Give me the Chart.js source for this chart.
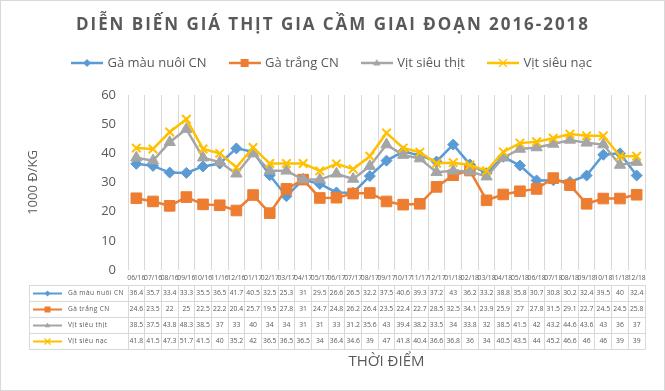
<!DOCTYPE html>
<html>
<head>
<meta charset="utf-8">
<script src="https://cdn.jsdelivr.net/npm/chart.js@4.4.1/dist/chart.umd.min.js"></script>
<style>
  body { margin: 0; background: #fff; }
  canvas { display: block; }
</style>
</head>
<body>
<canvas id="giaChart" width="665" height="391"></canvas>
<script>
const months = ['06/16', '07/16', '08/16', '09/16', '10/16', '11/16', '12/16',
  '01/17', '02/17', '03/17', '04/17', '05/17', '06/17', '07/17', '08/17', '09/17', '10/17', '11/17', '12/17',
  '01/18', '02/18', '03/18', '04/18', '05/18', '06/18', '07/18', '08/18', '09/18', '10/18', '11/18', '12/18'];

const gaMau = [36.4, 35.7, 33.4, 33.3, 35.5, 36.5, 41.7, 40.5, 32.5, 25.3, 31, 29.5, 26.6, 26.5, 32.2, 37.5,
  40.6, 39.3, 37.2, 43, 36.2, 33.2, 38.8, 35.8, 30.7, 30.8, 30.2, 32.4, 39.5, 40, 32.4];
const gaTrang = [24.6, 23.5, 22, 25, 22.5, 22.2, 20.4, 25.7, 19.5, 27.8, 31, 24.7, 24.8, 26.2, 26.4, 23.5,
  22.4, 22.7, 28.5, 32.5, 34.1, 23.9, 25.9, 27, 27.8, 31.5, 29.1, 22.7, 24.5, 24.5, 25.8];
const vitThit = [38.5, 37.5, 43.8, 48.3, 38.5, 37, 33, 40, 34, 34, 31, 31, 33, 31.2, 35.6, 43,
  39.4, 38.2, 33.5, 34, 33.8, 32, 38.5, 41.5, 42, 43.2, 44.6, 43.6, 43, 36, 37];
const vitNac = [41.8, 41.5, 47.3, 51.7, 41.5, 40, 35.2, 42, 36.5, 36.5, 36.5, 34, 36.4, 34.6, 39, 47,
  41.8, 40.4, 36.6, 36.8, 36, 34, 40.5, 43.5, 44, 45.2, 46.6, 46, 46, 39, 39];

const seriesNames = ['Gà màu nuôi CN', 'Gà trắng CN', 'Vịt siêu thịt', 'Vịt siêu nạc'];
const yTicks = [0, 10, 20, 30, 40, 50, 60];

const colors = ['#5B9BD5', '#ED7D31', '#A5A5A5', '#FFC000'];
const markers = ['diamond', 'square', 'triangle', 'cross'];
const textColor = '#595959';
const gridColor = '#d9d9d9';
const titleText = 'DIỄN BIẾN GIÁ THỊT GIA CẦM GIAI ĐOẠN 2016-2018';

Chart.defaults.font.family = '"Open Sans", sans-serif';
Chart.defaults.color = textColor;

// marker + line sample used by legend and table
function drawMarker(ctx, style, x, y, r, color) {
  ctx.save();
  ctx.fillStyle = color;
  ctx.strokeStyle = color;
  ctx.beginPath();
  if (style === 'diamond') {
    ctx.moveTo(x, y - r); ctx.lineTo(x + r, y); ctx.lineTo(x, y + r); ctx.lineTo(x - r, y);
    ctx.closePath(); ctx.fill();
  } else if (style === 'square') {
    ctx.rect(x - r, y - r, 2 * r, 2 * r); ctx.fill();
  } else if (style === 'triangle') {
    ctx.moveTo(x, y - r); ctx.lineTo(x + r * 0.9, y + r * 0.6); ctx.lineTo(x - r * 0.9, y + r * 0.6);
    ctx.closePath(); ctx.fill();
  } else {
    ctx.lineWidth = 1.3;
    ctx.moveTo(x - r, y - r); ctx.lineTo(x + r, y + r);
    ctx.moveTo(x + r, y - r); ctx.lineTo(x - r, y + r);
    ctx.stroke();
  }
  ctx.restore();
}

function keySample(ctx, x1, x2, y, i, r, lw) {
  ctx.save();
  ctx.strokeStyle = colors[i];
  ctx.lineWidth = lw;
  ctx.beginPath();
  ctx.moveTo(x1, y); ctx.lineTo(x2, y);
  ctx.stroke();
  drawMarker(ctx, markers[i], (x1 + x2) / 2, y, r, colors[i]);
  ctx.restore();
}

const legendIcons = seriesNames.map((n, i) => {
  const c = document.createElement('canvas');
  c.width = 32; c.height = 12;
  keySample(c.getContext('2d'), 0, 32, 6, i, 4, 2.5);
  return c;
});

const framePlugin = {
  id: 'frame',
  beforeDraw(chart) {
    const ctx = chart.ctx;
    ctx.save();
    ctx.fillStyle = '#fff';
    ctx.fillRect(0, 0, chart.width, chart.height);
    ctx.strokeStyle = '#d9d9d9';
    ctx.lineWidth = 1;
    ctx.strokeRect(0.5, 0.5, chart.width - 1, chart.height - 1);
    ctx.restore();
  },
  afterDraw(chart) {
    // spaced chart title
    const ctx = chart.ctx;
    ctx.save();
    ctx.font = 'bold 17px "Open Sans", sans-serif';
    ctx.fillStyle = textColor;
    ctx.textBaseline = 'middle';
    const w0 = ctx.measureText(titleText).width;
    const ls = (512 - w0) / (titleText.length - 1);
    ctx.letterSpacing = ls + 'px';
    ctx.textAlign = 'left';
    ctx.fillText(titleText, 332 - 256, 25);
    ctx.restore();
  }
};

const tablePlugin = {
  id: 'dataTable',
  afterDraw(chart) {
    const ctx = chart.ctx;
    const xs = chart.scales.x;
    const area = chart.chartArea;
    const n = months.length;
    const colW = (area.right - area.left) / n;
    const left = 29, top = 285, rowH = 16;
    const rows = chart.data.datasets.length;
    const al = p => Math.round(p - 0.5) + 0.5;
    ctx.save();
    ctx.strokeStyle = gridColor;
    ctx.lineWidth = 1;
    ctx.beginPath();
    for (let r = 0; r <= rows; r++) {
      const yy = al(top + r * rowH);
      ctx.moveTo(left, yy); ctx.lineTo(al(area.right), yy);
    }
    ctx.moveTo(al(left), top); ctx.lineTo(al(left), top + rows * rowH);
    for (let c = 0; c <= n; c++) {
      const xx = al(area.left + c * colW);
      ctx.moveTo(xx, top); ctx.lineTo(xx, top + rows * rowH);
    }
    ctx.stroke();

    ctx.fillStyle = textColor;
    ctx.textBaseline = 'middle';
    chart.data.datasets.forEach((ds, r) => {
      const cy = top + r * rowH + rowH / 2 + 0.5;
      keySample(ctx, 33, 62, cy, r, 3, 2);
      ctx.font = '6.6px "Open Sans", sans-serif';
      ctx.letterSpacing = '0.4px';
      ctx.textAlign = 'left';
      ctx.fillText(ds.label, 68, cy);
      ctx.letterSpacing = '0px';
      ctx.font = '6.8px "Open Sans", sans-serif';
      ctx.textAlign = 'center';
      ds.data.forEach((v, c) => ctx.fillText(String(v), xs.getPixelForValue(c), cy));
    });
    ctx.restore();
  }
};

const seriesData = [gaMau, gaTrang, vitThit, vitNac];
const chartStyles = ['rectRot', 'rect', 'triangle', 'crossRot'];
const pointSizes = [5.5, 7.5, 6.5, 6];

new Chart(document.getElementById('giaChart'), {
  type: 'line',
  data: {
    labels: months,
    datasets: seriesNames.map((name, i) => ({
      label: name,
      data: seriesData[i],
      borderColor: colors[i],
      backgroundColor: colors[i],
      pointBackgroundColor: colors[i],
      pointBorderColor: colors[i],
      pointStyle: chartStyles[i],
      pointRadius: pointSizes[i],
      pointHoverRadius: pointSizes[i],
      pointBorderWidth: i === 3 ? 2 : 1,
      borderWidth: 2.5,
      tension: 0,
      order: 4 - i
    }))
  },
  options: {
    responsive: false,
    animation: false,
    layout: { padding: { left: 20, right: 20, top: 32.5, bottom: 0 } },
    plugins: {
      title: { display: false },
      subtitle: {
        display: true, text: '', weight: 100,
        font: { size: 1 }, padding: { top: 0, bottom: 14.3 }
      },
      legend: {
        position: 'top',
        labels: {
          usePointStyle: true,
          pointStyleWidth: 28,
          padding: 24,
          color: textColor,
          font: { size: 13 },
          generateLabels: chart => chart.data.datasets.map((ds, i) => ({
            text: ds.label,
            pointStyle: legendIcons[i],
            fontColor: textColor,
            fillStyle: 'transparent',
            strokeStyle: 'transparent',
            lineWidth: 0,
            hidden: false,
            datasetIndex: i
          }))
        }
      },
      tooltip: { enabled: false }
    },
    scales: {
      x: {
        offset: true,
        grid: { offset: true, color: gridColor, drawTicks: false },
        border: { display: false },
        ticks: { autoSkip: false, maxRotation: 0, minRotation: 0, padding: 4, font: { size: 6.8 }, color: textColor },
        title: { display: true, text: 'THỜI ĐIỂM', font: { size: 15 }, color: textColor, padding: { top: 0, bottom: 20 } },
        afterFit: s => { s.height = 121; }
      },
      y: {
        min: 0, max: 60,
        afterBuildTicks: s => { s.ticks = yTicks.map(v => ({ value: v })); },
        grid: { display: false, drawTicks: false },
        border: { display: false },
        ticks: { padding: 12, font: { size: 13 }, color: textColor },
        title: { display: true, text: '1000 Đ/KG', font: { size: 13 }, color: textColor, padding: { top: 5, bottom: 0 } },
        afterFit: s => { s.width = 108; }
      }
    }
  },
  plugins: [framePlugin, tablePlugin]
});
</script>
</body>
</html>
